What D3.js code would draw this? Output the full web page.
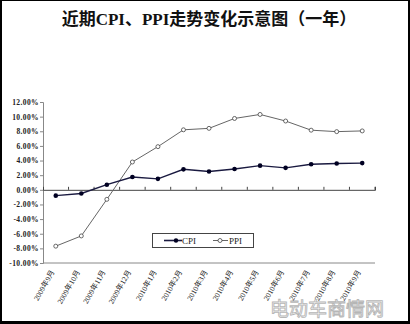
<!DOCTYPE html>
<html lang="zh">
    <head>
        <meta charset="utf-8">
        <title>CPI PPI</title>
        <script type="text/javascript" src="https://cdnjs.cloudflare.com/ajax/libs/d3/7.8.5/d3.min.js"></script>
        <style type="text/css">
            body { margin: 0; background: #000; }
            svg { display: block; }
        </style>
    </head>
    <body>
        <script type="text/javascript">
            var w = 410;
            var h = 324;

            var months = ["2009年9月", "2009年10月", "2009年11月", "2009年12月", "2010年1月", "2010年2月",
                          "2010年3月", "2010年4月", "2010年5月", "2010年6月", "2010年7月", "2010年8月", "2010年9月"];
            var cpi = [-0.8, -0.5, 0.7, 1.75, 1.5, 2.8, 2.5, 2.85, 3.3, 3.0, 3.5, 3.6, 3.65];
            var ppi = [-7.7, -6.3, -1.3, 3.8, 5.9, 8.2, 8.4, 9.75, 10.3, 9.4, 8.15, 7.95, 8.05];
            var yTicks = [12, 10, 8, 6, 4, 2, 0, -2, -4, -6, -8, -10];

            var serif = "'Liberation Serif', 'Noto Sans CJK SC', serif";

            var svg = d3.select("body")
                        .append("svg")
                        .attr("width", w)
                        .attr("height", h);

            // white page inside the black frame
            svg.append("rect")
               .attr("x", 2).attr("y", 1)
               .attr("width", w - 4).attr("height", h - 4)
               .attr("fill", "white");

            svg.append("text")
               .attr("x", 209).attr("y", 25)
               .attr("text-anchor", "middle")
               .attr("font-family", serif)
               .attr("font-weight", "bold")
               .attr("font-size", 17)
               .attr("fill", "#111")
               .text("近期CPI、PPI走势变化示意图（一年）");

            var x = d3.scaleBand().domain(months).range([43, 375]);
            var y = d3.scaleLinear().domain([-10, 12]).range([263, 102]);
            var cx = function (d, i) { return x(months[i]) + x.bandwidth() / 2; };

            // y axis
            var yAxis = svg.append("g")
               .attr("transform", "translate(43,0)")
               .call(d3.axisLeft(y).tickValues(yTicks).tickSize(3)
                       .tickFormat(function (d) { return d.toFixed(2) + "%"; }));
            yAxis.select(".domain").attr("stroke", "#888");
            yAxis.selectAll(".tick line").attr("stroke", "#888");
            yAxis.selectAll(".tick text")
                 .attr("font-family", serif)
                 .attr("font-weight", "bold")
                 .attr("font-size", 7.5)
                 .attr("letter-spacing", 0.4)
                 .attr("fill", "#222")
                 .attr("x", -4);

            // bottom frame line
            svg.append("line")
               .attr("x1", 43).attr("x2", 375)
               .attr("y1", y(-10)).attr("y2", y(-10))
               .attr("stroke", "#888");

            // zero line with category ticks going up
            var zero = svg.append("g")
               .attr("transform", "translate(0," + y(0) + ")")
               .call(d3.axisTop(x).tickSize(3).tickFormat(""));
            zero.select(".domain").attr("stroke", "#444");
            zero.selectAll(".tick")
                .attr("transform", function (d) { return "translate(" + (x(d) + x.bandwidth()) + ",0)"; });
            zero.selectAll(".tick line").attr("stroke", "#444");

            // month labels
            svg.append("g").selectAll("text")
               .data(months)
               .enter()
               .append("text")
               .attr("transform", function (d, i) {
                   return "translate(" + (cx(d, i) - 1) + ",272) rotate(-60)";
               })
               .attr("text-anchor", "end")
               .attr("font-family", serif)
               .attr("font-size", 7.5)
               .attr("fill", "#222")
               .text(function (d) { return d; });

            var line = d3.line()
                         .x(cx)
                         .y(function (d) { return y(d); });

            svg.append("path")
               .datum(ppi)
               .attr("d", line)
               .attr("fill", "none")
               .attr("stroke", "#666")
               .attr("stroke-width", 1);

            svg.append("path")
               .datum(cpi)
               .attr("d", line)
               .attr("fill", "none")
               .attr("stroke", "#1a1a40")
               .attr("stroke-width", 1.4);

            svg.append("g").selectAll("circle")
               .data(ppi)
               .enter()
               .append("circle")
               .attr("cx", cx)
               .attr("cy", function (d) { return y(d); })
               .attr("r", 2)
               .attr("fill", "white")
               .attr("stroke", "#444")
               .attr("stroke-width", 0.8);

            svg.append("g").selectAll("circle")
               .data(cpi)
               .enter()
               .append("circle")
               .attr("cx", cx)
               .attr("cy", function (d) { return y(d); })
               .attr("r", 2.3)
               .attr("fill", "#000022");

            // legend
            var lg = svg.append("g");
            lg.append("rect")
              .attr("x", 152.5).attr("y", 233.5)
              .attr("width", 101).attr("height", 14)
              .attr("fill", "white")
              .attr("stroke", "#444");
            lg.append("line")
              .attr("x1", 164).attr("x2", 182).attr("y1", 240.5).attr("y2", 240.5)
              .attr("stroke", "#1a1a40").attr("stroke-width", 1.6);
            lg.append("circle")
              .attr("cx", 176).attr("cy", 240.5).attr("r", 2.2).attr("fill", "#000022");
            lg.append("text")
              .attr("x", 182).attr("y", 243.5)
              .attr("font-family", serif).attr("font-size", 9).attr("fill", "#222")
              .text("CPI");
            lg.append("line")
              .attr("x1", 213).attr("x2", 228).attr("y1", 240.5).attr("y2", 240.5)
              .attr("stroke", "#666");
            lg.append("circle")
              .attr("cx", 220).attr("cy", 240.5).attr("r", 2)
              .attr("fill", "white").attr("stroke", "#444").attr("stroke-width", 0.8);
            lg.append("text")
              .attr("x", 229).attr("y", 243.5)
              .attr("font-family", serif).attr("font-size", 9).attr("fill", "#222")
              .text("PPI");

            // watermark
            svg.append("text")
               .attr("x", 327).attr("y", 316)
               .attr("text-anchor", "middle")
               .attr("font-family", "'Noto Sans CJK SC', sans-serif")
               .attr("font-size", 19)
               .attr("fill", "white")
               .attr("stroke", "#aaa")
               .attr("stroke-width", 0.9)
               .attr("opacity", 0.85)
               .text("电动车商情网");
        </script>
    </body>
</html>
